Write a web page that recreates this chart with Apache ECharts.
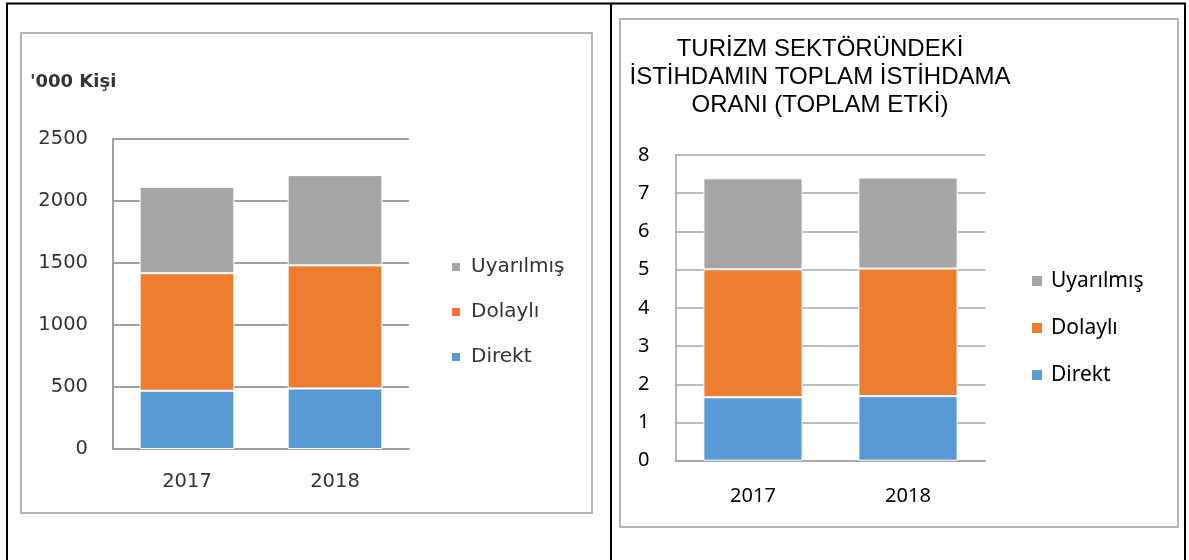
<!DOCTYPE html>
<html>
<head>
<meta charset="utf-8">
<script src="https://cdn.jsdelivr.net/npm/echarts@6/dist/echarts.min.js"></script>
<style>
  html, body { margin: 0; padding: 0; background: #fff; }
  #chart { width: 1189px; height: 560px; }
</style>
</head>
<body>
<div id="chart"></div>
<script>
// ---- Data ----
const categories = ['2017', '2018'];
const seriesNames = ['Direkt', 'Dolaylı', 'Uyarılmış'];
const legendOrder = ['Uyarılmış', 'Dolaylı', 'Direkt'];

// Left chart: '000 Kişi
const leftDirekt = [470, 488];
const leftDolayli = [948, 993];
const leftUyarilmis = [697, 728];
const leftTicks = { min: 0, max: 2500, interval: 500 };

// Right chart: share of total employment (total effect)
const rightDirekt = [1.66, 1.69];
const rightDolayli = [3.35, 3.34];
const rightUyarilmis = [2.38, 2.38];
const rightTicks = { min: 0, max: 8, interval: 1 };

const rightTitle = 'TURİZM SEKTÖRÜNDEKİ\nİSTİHDAMIN TOPLAM İSTİHDAMA\nORANI (TOPLAM ETKİ)';
const leftUnit = "'000 Kişi";

const colors = { 'Direkt': '#5B9BD5', 'Dolaylı': '#ED7D31', 'Uyarılmış': '#A5A5A5' };

const chart = echarts.init(document.getElementById('chart'), null, { renderer: 'canvas' });

function barSeries(name, data, idx, stack) {
  return {
    type: 'bar', name: name, data: data, stack: stack,
    xAxisIndex: idx, yAxisIndex: idx,
    barWidth: '64%',
    itemStyle: { color: colors[name], borderColor: '#ffffff', borderWidth: 1 },
    emphasis: { disabled: true }
  };
}

const leftFont = 'DejaVu Sans';
const rightFont = 'Noto Sans';
const leftText = '#333333';

const option = {
  animation: false,
  backgroundColor: '#ffffff',
  title: [
    {
      text: rightTitle,
      left: 815, top: 30, textAlign: 'center',
      textStyle: { fontFamily: 'Liberation Sans', fontSize: 24, fontWeight: 'normal', color: '#000', lineHeight: 28 }
    },
    {
      text: leftUnit,
      left: 25, top: 68,
      textStyle: { fontFamily: leftFont, fontSize: 18, fontWeight: 'bold', color: leftText }
    }
  ],
  legend: [
    {
      data: legendOrder, orient: 'vertical', left: 445, top: 252,
      itemWidth: 10, itemHeight: 10, itemGap: 25, icon: 'rect', selectedMode: false,
      textStyle: { fontFamily: leftFont, fontSize: 20, color: leftText, lineHeight: 20, padding: [0, 0, 0, 5] }
    },
    {
      data: legendOrder, orient: 'vertical', left: 1025, top: 265,
      itemWidth: 12, itemHeight: 12, itemGap: 25, icon: 'rect', selectedMode: false,
      textStyle: { fontFamily: rightFont, fontSize: 21, color: '#000', lineHeight: 22, padding: [0, 0, 0, 3] }
    }
  ],
  grid: [
    { left: 113, top: 139, width: 296, height: 310, containLabel: false },
    { left: 675.5, top: 155, width: 310, height: 305.7, containLabel: false }
  ],
  xAxis: [
    {
      type: 'category', data: categories, gridIndex: 0,
      axisLine: { show: true, lineStyle: { color: '#A0A0A0', width: 2 } },
      axisTick: { show: false },
      axisLabel: { fontFamily: leftFont, fontSize: 19.5, color: leftText, margin: 23 }
    },
    {
      type: 'category', data: categories, gridIndex: 1,
      axisLine: { show: true, lineStyle: { color: '#A0A0A0', width: 1.5 } },
      axisTick: { show: false },
      axisLabel: { fontFamily: rightFont, fontSize: 20, color: '#000', margin: 26 }
    }
  ],
  yAxis: [
    {
      type: 'value', gridIndex: 0, min: leftTicks.min, max: leftTicks.max, interval: leftTicks.interval,
      axisLine: { show: true, lineStyle: { color: '#A0A0A0', width: 2 } },
      axisTick: { show: false },
      splitLine: { show: true, lineStyle: { color: '#A0A0A0', width: 2 } },
      axisLabel: { fontFamily: leftFont, fontSize: 19.5, color: leftText, margin: 25, formatter: function (v) { return String(v); } }
    },
    {
      type: 'value', gridIndex: 1, min: rightTicks.min, max: rightTicks.max, interval: rightTicks.interval,
      axisLine: { show: true, lineStyle: { color: '#A0A0A0', width: 1.5 } },
      axisTick: { show: false },
      splitLine: { show: true, lineStyle: { color: '#A6A6A6', width: 1.5 } },
      axisLabel: { fontFamily: rightFont, fontSize: 20, color: '#000', margin: 26 }
    }
  ],
  series: [
    barSeries('Direkt', leftDirekt, 0, 'L'),
    barSeries('Dolaylı', leftDolayli, 0, 'L'),
    barSeries('Uyarılmış', leftUyarilmis, 0, 'L'),
    barSeries('Direkt', rightDirekt, 1, 'R'),
    barSeries('Dolaylı', rightDolayli, 1, 'R'),
    barSeries('Uyarılmış', rightUyarilmis, 1, 'R')
  ],
  graphic: [
    // chart frames
    { type: 'rect', silent: true, z: -1, shape: { x: 21, y: 33, width: 571, height: 480 },
      style: { fill: null, stroke: '#B4B4B4', lineWidth: 2 } },
    { type: 'rect', silent: true, z: -1, shape: { x: 620, y: 19, width: 558, height: 508 },
      style: { fill: null, stroke: '#B4B4B4', lineWidth: 2 } },
    // table borders
    { type: 'line', silent: true, shape: { x1: 6, y1: 3.5, x2: 1186, y2: 3.5 }, style: { stroke: '#000', lineWidth: 2 } },
    { type: 'line', silent: true, shape: { x1: 7, y1: 3, x2: 7, y2: 560 }, style: { stroke: '#000', lineWidth: 2 } },
    { type: 'line', silent: true, shape: { x1: 611, y1: 3, x2: 611, y2: 560 }, style: { stroke: '#000', lineWidth: 2 } },
    { type: 'line', silent: true, shape: { x1: 1185, y1: 3, x2: 1185, y2: 560 }, style: { stroke: '#000', lineWidth: 2 } }
  ]
};

chart.setOption(option);
</script>
</body>
</html>
